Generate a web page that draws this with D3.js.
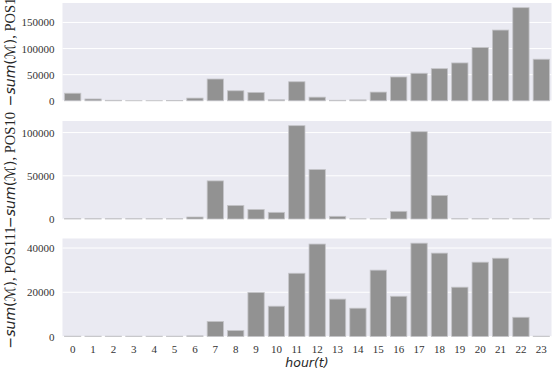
<!DOCTYPE html>
<html><head><meta charset="utf-8">
<script src="https://cdn.jsdelivr.net/npm/d3@7"></script>
<style>
html,body{margin:0;padding:0;background:#fff;}
svg{display:block;}
</style></head>
<body>
<svg id="chart" width="552" height="372"></svg>
<script>
const hours = d3.range(24).map(String);
const pos1 = [14500, 3500, 1000, 300, 300, 500, 5200, 41700, 19200, 16100, 2000, 36500,
              7000, 1000, 1800, 16700, 45600, 52700, 61500, 72500, 102000, 135400, 178300, 79600];
const pos10 = [400, 400, 400, 400, 400, 400, 2300, 44100, 15700, 11100, 7700, 108000,
               57200, 3100, 300, 300, 8900, 101000, 27300, 400, 400, 400, 400, 400];
const pos111 = [150, 150, 150, 150, 150, 150, 300, 6800, 2700, 19900, 13700, 28600,
                41800, 16900, 12800, 30000, 18200, 42200, 37700, 22300, 33600, 35400, 8700, 150];
const ticks1 = [0, 50000, 100000, 150000];
const ticks10 = [0, 50000, 100000];
const ticks111 = [0, 20000, 40000];
const names = ["POS1", "POS10", "POS111"];

const panels = [
  {name: names[0], values: pos1, ticks: ticks1, top: 3, bottom: 100.8},
  {name: names[1], values: pos10, ticks: ticks10, top: 121, bottom: 219},
  {name: names[2], values: pos111, ticks: ticks111, top: 238.5, bottom: 336.5}
];

const svg = d3.select("#chart");
const left = 62.5, right = 551.5;
const x = d3.scaleBand().domain(hours).range([left, right]).paddingInner(0.2).paddingOuter(0.1);
const serif = "'Liberation Serif', 'DejaVu Serif', serif";

panels.forEach((p, i) => {
  const y = d3.scaleLinear().domain([0, d3.max(p.values) * 1.05]).range([p.bottom, p.top]);
  const g = svg.append("g");
  g.append("rect").attr("x", left).attr("y", p.top).attr("width", right - left)
    .attr("height", p.bottom - p.top).attr("fill", "#EAEAF2");
  g.selectAll("line.grid").data(p.ticks).join("line").attr("class", "grid")
    .attr("x1", left).attr("x2", right)
    .attr("y1", d => y(d)).attr("y2", d => y(d))
    .attr("stroke", "#fff").attr("stroke-width", 1);
  g.selectAll("rect.bar").data(p.values).join("rect").attr("class", "bar")
    .attr("x", (d, j) => x(hours[j]))
    .attr("width", x.bandwidth())
    .attr("y", d => y(d))
    .attr("height", d => Math.max(0, y(0) - y(d)))
    .attr("fill", "#929292")
    .attr("stroke", "#c4c4c8").attr("stroke-width", 0.8);
  const ax = g.append("g").attr("transform", `translate(${left},0)`)
    .call(d3.axisLeft(y).tickValues(p.ticks).tickSize(0).tickPadding(8).tickFormat(d3.format("d")));
  ax.select(".domain").remove();
  ax.selectAll("text").attr("font-family", serif).attr("font-size", 11).attr("fill", "#333");
  const cy = (p.top + p.bottom) / 2;
  const t = g.append("text")
    .attr("transform", `translate(14.5,${cy}) rotate(-90)`)
    .attr("text-anchor", "middle").attr("font-size", 14).attr("fill", "#262626");
  t.append("tspan").attr("font-family", "'DejaVu Sans', sans-serif").text("\u2212");
  t.append("tspan").attr("font-family", "'DejaVu Sans', sans-serif").attr("font-style", "italic").text("sum");
  t.append("tspan").attr("font-family", "'DejaVu Sans', sans-serif").text("(\u2133)");
  t.append("tspan").attr("font-family", serif).attr("font-size", 14.5).text(", " + p.name);
  if (i === 2) {
    const xa = g.append("g").attr("transform", `translate(0,${p.bottom})`)
      .call(d3.axisBottom(x).tickSize(0).tickPadding(9));
    xa.select(".domain").remove();
    xa.selectAll("text").attr("font-family", serif).attr("font-size", 11).attr("fill", "#333");
  }
});

svg.append("text").attr("x", (left + right) / 2).attr("y", 367)
  .attr("text-anchor", "middle").attr("font-family", "'DejaVu Sans', sans-serif")
  .attr("font-style", "italic").attr("font-size", 12.5).attr("fill", "#262626")
  .text("hour(t)");
</script>
</body></html>
